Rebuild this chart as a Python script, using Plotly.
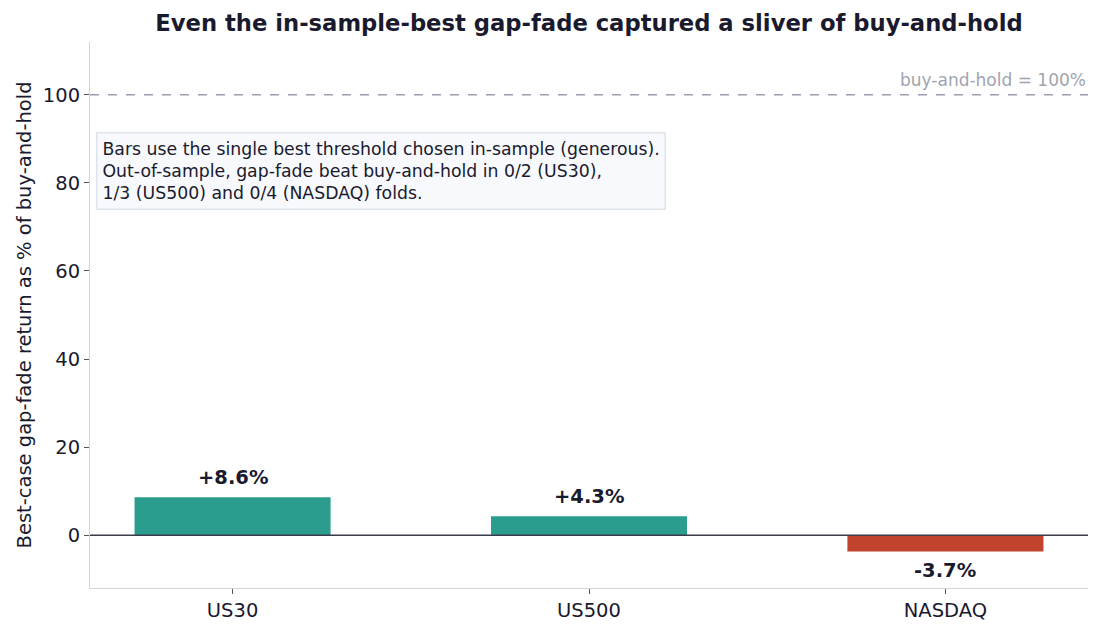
import plotly.graph_objects as go

categories = ["US30", "US500", "NASDAQ"]
values = [8.6, 4.3, -3.7]
labels = ["+8.6%", "+4.3%", "-3.7%"]
bar_colors = ["#2a9d8f", "#2a9d8f", "#c0432e"]
y_ticks = [0, 20, 40, 60, 80, 100]
benchmark = 100

fig = go.Figure()
fig.add_trace(go.Bar(
    x=categories, y=values, marker=dict(color=bar_colors, line=dict(width=0)),
    width=0.55, hoverinfo="skip", showlegend=False,
))

for c, v, t in zip(categories, values, labels):
    fig.add_annotation(
        x=c, y=v, text="<b>%s</b>" % t, showarrow=False,
        yanchor="bottom" if v >= 0 else "top",
        yshift=6 if v >= 0 else -6,
        font=dict(family="DejaVu Sans", size=19.5, color="#1a1a2e"),
    )

fig.add_shape(type="line", xref="paper", x0=0, x1=1, y0=benchmark, y1=benchmark,
              line=dict(color="#9a9eae", width=1.5, dash="dash"))
fig.add_shape(type="line", xref="paper", x0=0, x1=1, y0=0, y1=0,
              line=dict(color="#3a3a4a", width=1.5))

fig.add_annotation(
    xref="paper", x=1, y=benchmark, text="buy-and-hold = 100%", showarrow=False,
    xanchor="right", yanchor="bottom", yshift=3,
    font=dict(family="DejaVu Sans", size=17, color="#a0a4b0"),
)

fig.add_annotation(
    xref="paper", yref="paper", x=0.006, y=0.835, xanchor="left", yanchor="top",
    text=("Bars use the single best threshold chosen in-sample (generous).<br>"
          "Out-of-sample, gap-fade beat buy-and-hold in 0/2 (US30),<br>"
          "1/3 (US500) and 0/4 (NASDAQ) folds."),
    align="left", showarrow=False,
    font=dict(family="DejaVu Sans", size=17.3, color="#1a1a2e"),
    bgcolor="#f7f9fc", bordercolor="#dfe3ea", borderwidth=1.5, borderpad=5,
)

fig.update_layout(
    width=1101, height=633,
    margin=dict(l=90, r=13, t=42, b=45),
    paper_bgcolor="white", plot_bgcolor="white",
    font=dict(family="DejaVu Sans", color="#1a1a2e"),
    title=dict(
        text="<b>Even the in-sample-best gap-fade captured a sliver of buy-and-hold</b>",
        x=0.5, xanchor="center", xref="paper",
        y=1 - 23 / 633, yanchor="middle", yref="container",
        font=dict(family="DejaVu Sans", size=22.7, color="#1a1a2e"),
    ),
    xaxis=dict(
        range=[-0.4, 2.4], showgrid=False, zeroline=False,
        showline=True, linecolor="#d0d4dc", linewidth=1,
        ticks="outside", ticklen=5, tickcolor="#555", tickwidth=1,
        tickfont=dict(size=19.5, color="#1a1a2e"),
    ),
    yaxis=dict(
        range=[-12, 112], tickvals=y_ticks, showgrid=False, zeroline=False,
        showline=True, linecolor="#d0d4dc", linewidth=1,
        ticks="outside", ticklen=5, tickcolor="#555", tickwidth=1,
        tickfont=dict(size=19.5, color="#1a1a2e"),
        title=dict(text="Best-case gap-fade return as % of buy-and-hold",
                   font=dict(size=19.5, color="#1a1a2e"), standoff=6),
    ),
)

fig.write_html("out.html")
